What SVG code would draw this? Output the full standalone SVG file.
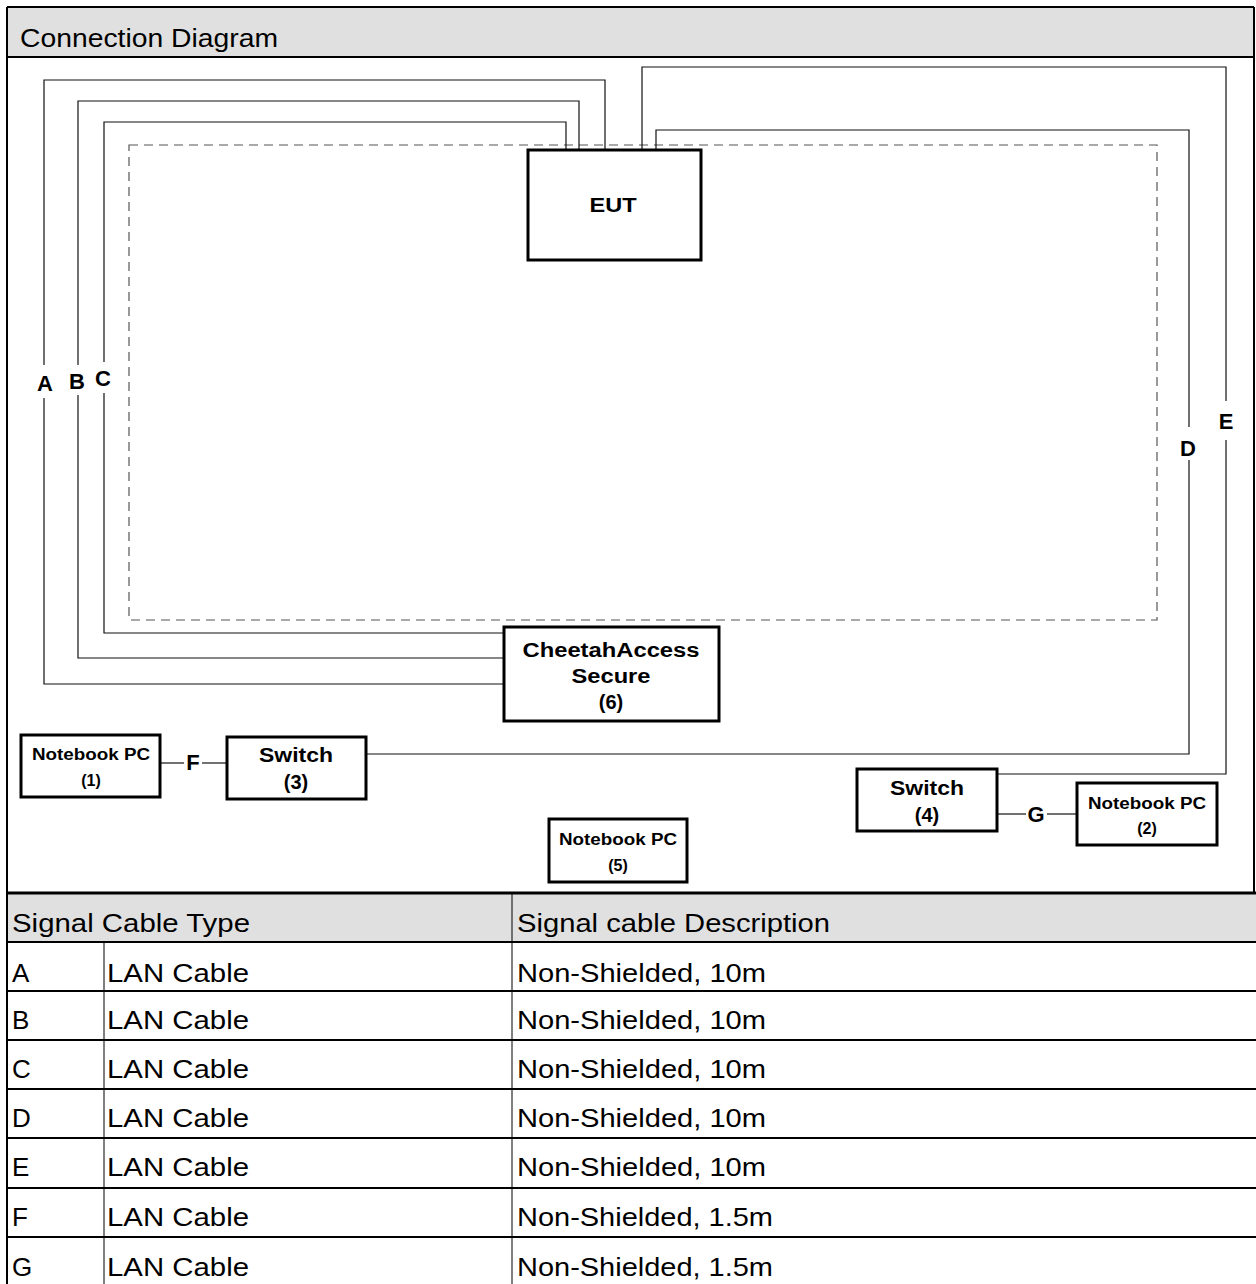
<svg xmlns="http://www.w3.org/2000/svg" width="1256" height="1284" viewBox="0 0 1256 1284">
<style>
.bx{fill:#fff;stroke:#000;stroke-width:3}
.cn{fill:none;stroke:#111;stroke-width:1.2}
.ds{fill:none;stroke:#555;stroke-width:1.2;stroke-dasharray:9 6}
.nt{font-family:"Liberation Sans",Arial,sans-serif;font-weight:bold;fill:#000;text-anchor:middle}
.lb{font-family:"Liberation Sans",Arial,sans-serif;font-weight:bold;font-size:22px;fill:#000;text-anchor:middle}
.tx{font-family:"Liberation Sans",Arial,sans-serif;font-size:26px;fill:#000}
.gl{stroke:#000;stroke-width:2}
.tl{stroke:#000;stroke-width:1}
</style>
<rect width="1256" height="1284" fill="#fff"/>
<g id="frame">
<rect x="7" y="7" width="1247" height="50" fill="#e0e0e0"/>
<rect x="7" y="893" width="1249" height="49" fill="#e0e0e0"/>
<line class="gl" x1="7" y1="7" x2="1254" y2="7"/>
<line class="gl" x1="7" y1="7" x2="7" y2="1284"/>
<line class="gl" x1="1254" y1="7" x2="1254" y2="893"/>
<line class="gl" x1="7" y1="57" x2="1254" y2="57"/>
<line x1="7" y1="893" x2="1256" y2="893" stroke="#000" stroke-width="3"/>
<line class="gl" x1="7" y1="942" x2="1256" y2="942"/>
<line class="gl" x1="7" y1="991" x2="1256" y2="991"/>
<line class="gl" x1="7" y1="1040" x2="1256" y2="1040"/>
<line class="gl" x1="7" y1="1089" x2="1256" y2="1089"/>
<line class="gl" x1="7" y1="1138" x2="1256" y2="1138"/>
<line class="gl" x1="7" y1="1188" x2="1256" y2="1188"/>
<line class="gl" x1="7" y1="1237" x2="1256" y2="1237"/>
<line class="tl" x1="104" y1="942" x2="104" y2="1284"/>
<line class="tl" x1="512" y1="893" x2="512" y2="1284"/>
<text class="tx" x="20" y="47" textLength="258" lengthAdjust="spacingAndGlyphs">Connection Diagram</text>
</g>
<g id="table">
<text class="tx" x="12" y="932" textLength="238" lengthAdjust="spacingAndGlyphs">Signal Cable Type</text>
<text class="tx" x="517" y="932" textLength="313" lengthAdjust="spacingAndGlyphs">Signal cable Description</text>
<g class="tx">
<text x="12" y="982">A</text><text x="107" y="982" textLength="142" lengthAdjust="spacingAndGlyphs">LAN Cable</text><text x="517" y="982" textLength="249" lengthAdjust="spacingAndGlyphs">Non-Shielded, 10m</text>
<text x="12" y="1029">B</text><text x="107" y="1029" textLength="142" lengthAdjust="spacingAndGlyphs">LAN Cable</text><text x="517" y="1029" textLength="249" lengthAdjust="spacingAndGlyphs">Non-Shielded, 10m</text>
<text x="12" y="1078">C</text><text x="107" y="1078" textLength="142" lengthAdjust="spacingAndGlyphs">LAN Cable</text><text x="517" y="1078" textLength="249" lengthAdjust="spacingAndGlyphs">Non-Shielded, 10m</text>
<text x="12" y="1127">D</text><text x="107" y="1127" textLength="142" lengthAdjust="spacingAndGlyphs">LAN Cable</text><text x="517" y="1127" textLength="249" lengthAdjust="spacingAndGlyphs">Non-Shielded, 10m</text>
<text x="12" y="1176">E</text><text x="107" y="1176" textLength="142" lengthAdjust="spacingAndGlyphs">LAN Cable</text><text x="517" y="1176" textLength="249" lengthAdjust="spacingAndGlyphs">Non-Shielded, 10m</text>
<text x="12" y="1226">F</text><text x="107" y="1226" textLength="142" lengthAdjust="spacingAndGlyphs">LAN Cable</text><text x="517" y="1226" textLength="256" lengthAdjust="spacingAndGlyphs">Non-Shielded, 1.5m</text>
<text x="12" y="1276">G</text><text x="107" y="1276" textLength="142" lengthAdjust="spacingAndGlyphs">LAN Cable</text><text x="517" y="1276" textLength="256" lengthAdjust="spacingAndGlyphs">Non-Shielded, 1.5m</text>
</g>
</g>
<rect id="test-area" class="ds" x="129" y="145" width="1028" height="475"/>
<g id="connectors">
<polyline class="cn" points="605,150 605,80 44,80 44,365"/>
<polyline class="cn" points="44,398 44,684 504,684"/>
<polyline class="cn" points="579,150 579,101 78,101 78,365"/>
<polyline class="cn" points="78,395 78,658 504,658"/>
<polyline class="cn" points="566,150 566,122 104,122 104,362"/>
<polyline class="cn" points="104,393 104,633 504,633"/>
<polyline class="cn" points="656,150 656,130 1189,130 1189,427"/>
<polyline class="cn" points="1189,460 1189,754 366,754"/>
<polyline class="cn" points="642,150 642,67 1226,67 1226,401"/>
<polyline class="cn" points="1226,440 1226,774 997,774"/>
<line class="cn" x1="160" y1="763" x2="184" y2="763"/>
<line class="cn" x1="202" y1="763" x2="227" y2="763"/>
<line class="cn" x1="997" y1="814" x2="1026" y2="814"/>
<line class="cn" x1="1047" y1="814" x2="1077" y2="814"/>
<text class="lb" x="45" y="391">A</text>
<text class="lb" x="77" y="389">B</text>
<text class="lb" x="103" y="386">C</text>
<text class="lb" x="1188" y="456">D</text>
<text class="lb" x="1226" y="429">E</text>
<text class="lb" x="193" y="770">F</text>
<text class="lb" x="1036" y="822">G</text>
</g>
<g id="eut">
<rect class="bx" x="528" y="150" width="173" height="110"/>
<text class="nt" x="613" y="212" font-size="21" textLength="47" lengthAdjust="spacingAndGlyphs">EUT</text>
</g>
<g id="cheetah">
<rect class="bx" x="504" y="627" width="215" height="94"/>
<text class="nt" x="611" y="657" font-size="20" textLength="177" lengthAdjust="spacingAndGlyphs">CheetahAccess</text>
<text class="nt" x="611" y="683" font-size="20" textLength="79" lengthAdjust="spacingAndGlyphs">Secure</text>
<text class="nt" x="611" y="709" font-size="20">(6)</text>
</g>
<g id="nb1">
<rect class="bx" x="21" y="735" width="139" height="62"/>
<text class="nt" x="91" y="760" font-size="16" textLength="118" lengthAdjust="spacingAndGlyphs">Notebook PC</text>
<text class="nt" x="91" y="786" font-size="16">(1)</text>
</g>
<g id="sw3">
<rect class="bx" x="227" y="737" width="139" height="62"/>
<text class="nt" x="296" y="762" font-size="20" textLength="74" lengthAdjust="spacingAndGlyphs">Switch</text>
<text class="nt" x="296" y="789" font-size="20">(3)</text>
</g>
<g id="sw4">
<rect class="bx" x="857" y="769" width="140" height="62"/>
<text class="nt" x="927" y="795" font-size="20" textLength="74" lengthAdjust="spacingAndGlyphs">Switch</text>
<text class="nt" x="927" y="822" font-size="20">(4)</text>
</g>
<g id="nb2">
<rect class="bx" x="1077" y="783" width="140" height="62"/>
<text class="nt" x="1147" y="809" font-size="16" textLength="118" lengthAdjust="spacingAndGlyphs">Notebook PC</text>
<text class="nt" x="1147" y="834" font-size="16">(2)</text>
</g>
<g id="nb5">
<rect class="bx" x="549" y="819" width="138" height="63"/>
<text class="nt" x="618" y="845" font-size="16" textLength="118" lengthAdjust="spacingAndGlyphs">Notebook PC</text>
<text class="nt" x="618" y="871" font-size="16">(5)</text>
</g>
</svg>
